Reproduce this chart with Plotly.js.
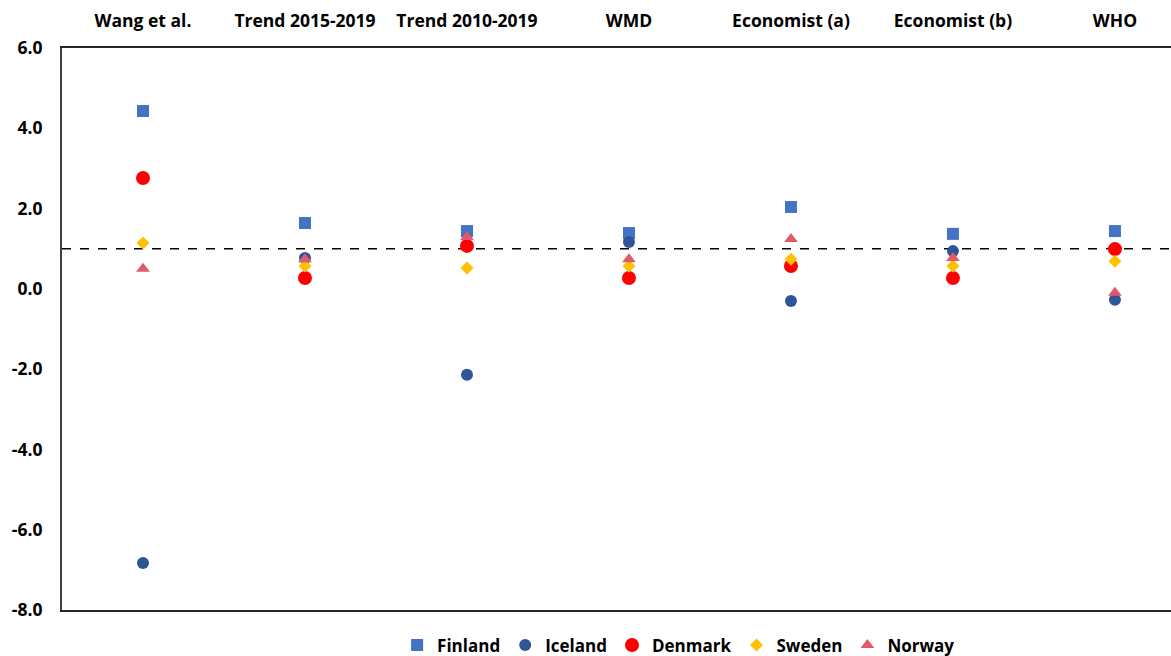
<!DOCTYPE html>
<html>
<head>
<meta charset="utf-8">
<script src="https://cdn.plot.ly/plotly-3.0.1.min.js"></script>
<style>html,body{margin:0;padding:0;background:#fff;}#chart{width:1171px;height:656px;}</style>
</head>
<body>
<div id="chart"></div>
<script>
const categories = ["Wang et al.", "Trend 2015-2019", "Trend 2010-2019", "WMD", "Economist (a)", "Economist (b)", "WHO"];
const finland = [4.43, 1.64, 1.44, 1.39, 2.04, 1.37, 1.44];
const iceland = [-6.83, 0.77, -2.14, 1.17, -0.30, 0.94, -0.27];
const denmark = [2.76, 0.27, 1.07, 0.27, 0.57, 0.27, 0.99];
const sweden = [1.14, 0.57, 0.52, 0.57, 0.74, 0.57, 0.69];
const norway = [0.50, 0.74, 1.29, 0.74, 1.24, 0.77, -0.10];
const referenceLevel = 1.0;
const yTickVals = [-8, -6, -4, -2, 0, 2, 4, 6];
const yTickText = ["-8.0", "-6.0", "-4.0", "-2.0", "0.0", "2.0", "4.0", "6.0"];

const font = "Open Sans, Liberation Sans, sans-serif";
function tr(name, y, symbol, color, size) {
  return {type: "scatter", mode: "markers", name: name, x: categories, y: y,
    marker: {symbol: symbol, color: color, size: size, line: {width: 0}}};
}
const data = [
  tr("Finland", finland, "square", "#4472C4", 12),
  tr("Iceland", iceland, "circle", "#2F5597", 12),
  tr("Denmark", denmark, "circle", "#FF0000", 14),
  tr("Sweden", sweden, "diamond", "#FFC000", 10),
  tr("Norway", norway, "triangle-up", "#E05A6A", 12)
];
const layout = {
  width: 1171, height: 656,
  margin: {l: 62, r: 0, t: 48, b: 46},
  paper_bgcolor: "#fff", plot_bgcolor: "#fff",
  font: {family: font, size: 17, color: "#000"},
  showlegend: true,
  legend: {orientation: "h", x: 0.556, xanchor: "center", yref: "container", y: 0.016, yanchor: "middle",
    font: {family: font, size: 17, color: "#000", weight: "bold"}, itemwidth: 30},
  xaxis: {type: "category", side: "top", range: [-0.5, 6.346], showgrid: false, zeroline: false,
    showline: true, mirror: true, linecolor: "#262626", linewidth: 2, ticks: "", ticklabelstandoff: 12,
    tickfont: {family: font, size: 17.5, color: "#000", weight: "bold"}, fixedrange: true},
  yaxis: {range: [-8, 6], tickvals: yTickVals, ticktext: yTickText, showgrid: false, zeroline: false,
    showline: true, linecolor: "#404040", linewidth: 2, ticks: "", ticklabelstandoff: 14,
    tickfont: {family: font, size: 17.5, color: "#000", weight: "bold"}, fixedrange: true},
  shapes: [{type: "line", xref: "paper", x0: 0, x1: 1, yref: "y", y0: referenceLevel, y1: referenceLevel,
    line: {color: "#000", width: 1.5, dash: "dash"}, layer: "below"}]
};
Plotly.newPlot("chart", data, layout, {displayModeBar: false, staticPlot: true});
</script>
</body>
</html>
